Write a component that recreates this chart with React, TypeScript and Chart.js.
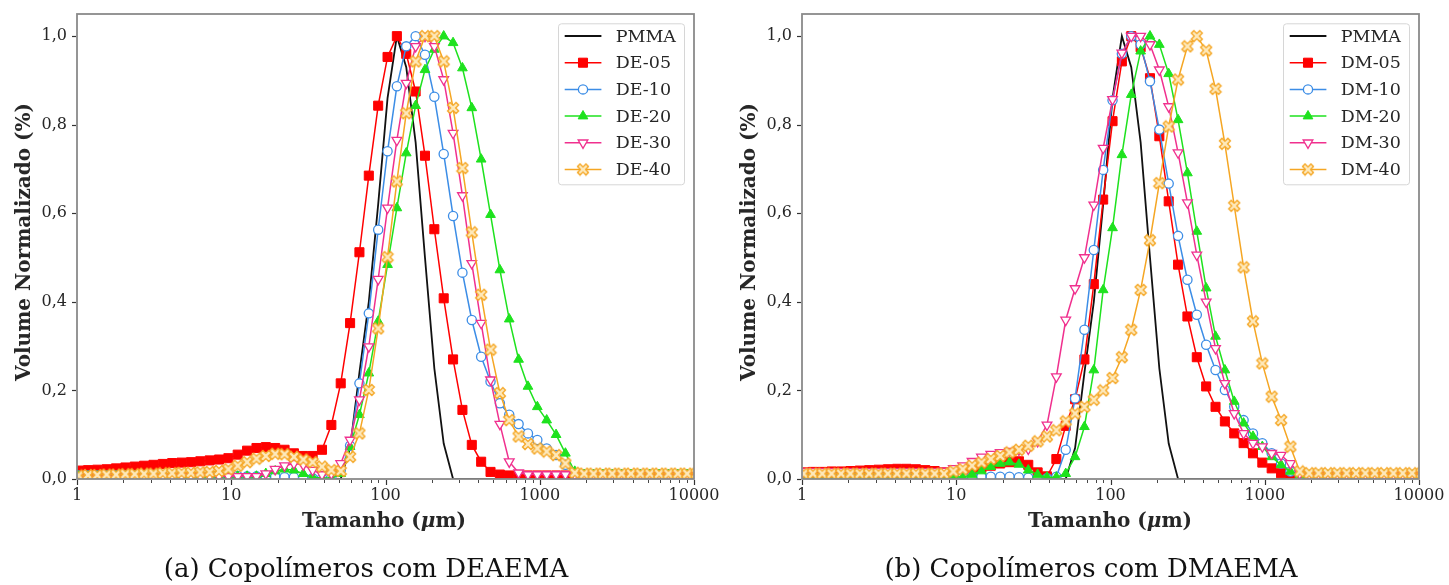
import React, { useEffect, useRef } from "react";
import { Chart, registerables } from "chart.js";
import { drawPoint } from "chart.js/helpers";

Chart.register(...registerables);

// Particle size grid (µm) shared by every curve
const SIZES = [
  0.890, 1.023, 1.177, 1.353, 1.556, 1.790, 2.058, 2.367, 2.722, 3.131, 3.600, 4.140, 4.762, 5.476, 6.298, 7.242, 8.328, 9.577,
  11.01, 12.67, 14.57, 16.75, 19.27, 22.16, 25.48, 29.30, 33.70, 38.75, 44.57, 51.25, 58.94, 67.76, 77.94, 89.64, 103.1,
  118.5, 136.3, 156.8, 180.3, 207.3, 238.4, 274.2, 315.3, 362.6, 417.0, 479.6, 551.5, 634.2, 729.4, 838.8, 964.5, 1109,
  1276, 1467, 1687, 1940, 2231, 2566, 2951, 3393, 3902, 4487, 5161, 5935, 6825, 7849, 9027, 10380,
];

const PMMA = [
  0, 0, 0, 0, 0, 0, 0, 0, 0, 0, 0, 0, 0, 0, 0, 0, 0, 0,
  0, 0, 0, 0, 0, 0, 0, 0, 0, 0, 0, 0, 0.07, 0.24, 0.40, 0.62, 0.86,
  1.0, 0.93, 0.76, 0.50, 0.25, 0.08, 0, 0, 0, 0, 0, 0, 0, 0, 0, 0, 0,
  0, 0, 0, 0, 0, 0, 0, 0, 0, 0, 0, 0, 0, 0, 0, 0,
];

const DE05 = [
  0.018, 0.019, 0.020, 0.021, 0.022, 0.024, 0.026, 0.028, 0.030, 0.032, 0.034, 0.036, 0.037, 0.038, 0.040, 0.042, 0.044, 0.047,
  0.055, 0.064, 0.070, 0.072, 0.070, 0.066, 0.058, 0.052, 0.052, 0.066, 0.122, 0.216, 0.352, 0.512, 0.685, 0.843, 0.953,
  1.0, 0.96, 0.875, 0.730, 0.564, 0.408, 0.270, 0.156, 0.077, 0.039, 0.016, 0.010, 0.008, 0.008, 0.008, 0.008, 0.008,
  0.008, 0.008, 0.008, 0.008, 0.008, 0.008, 0.008, 0.008, 0.008, 0.008, 0.008, 0.008, 0.008, 0.008, 0.008, 0.008,
];
const DE10 = [
  0.008, 0.008, 0.008, 0.008, 0.008, 0.008, 0.008, 0.008, 0.008, 0.008, 0.008, 0.008, 0.008, 0.008, 0.008, 0.008, 0.008, 0.008,
  0.007, 0.006, 0.006, 0.005, 0.005, 0.004, 0.004, 0.003, 0.002, 0.002, 0.003, 0.020, 0.075, 0.216, 0.374, 0.563, 0.740,
  0.887, 0.977, 1.0, 0.958, 0.863, 0.734, 0.594, 0.466, 0.359, 0.276, 0.220, 0.171, 0.145, 0.124, 0.103, 0.088, 0.069,
  0.054, 0.032, 0.013, 0.010, 0.010, 0.010, 0.010, 0.010, 0.010, 0.010, 0.010, 0.010, 0.010, 0.010, 0.010, 0.010,
];
const DE20 = [
  0.006, 0.006, 0.006, 0.006, 0.006, 0.006, 0.006, 0.006, 0.006, 0.006, 0.006, 0.006, 0.006, 0.006, 0.006, 0.006, 0.006, 0.006,
  0.006, 0.006, 0.006, 0.012, 0.018, 0.022, 0.020, 0.012, 0.004, 0.002, 0.002, 0.012, 0.073, 0.145, 0.239, 0.356, 0.484,
  0.612, 0.736, 0.843, 0.924, 0.970, 1.0, 0.985, 0.928, 0.838, 0.722, 0.597, 0.472, 0.361, 0.270, 0.209, 0.163, 0.133,
  0.100, 0.058, 0.017, 0.010, 0.010, 0.010, 0.010, 0.010, 0.010, 0.010, 0.010, 0.010, 0.010, 0.010, 0.010, 0.010,
];
const DE30 = [
  0.006, 0.006, 0.006, 0.006, 0.006, 0.006, 0.006, 0.006, 0.006, 0.006, 0.006, 0.006, 0.006, 0.006, 0.006, 0.006, 0.006, 0.006,
  0.006, 0.006, 0.006, 0.012, 0.022, 0.030, 0.035, 0.032, 0.020, 0.010, 0.012, 0.035, 0.088, 0.179, 0.299, 0.451, 0.612,
  0.765, 0.894, 0.977, 1.0, 0.977, 0.902, 0.781, 0.640, 0.487, 0.352, 0.224, 0.124, 0.039, 0.014, 0.010, 0.010, 0.010,
  0.010, 0.010, 0.010, 0.010, 0.010, 0.010, 0.010, 0.010, 0.010, 0.010, 0.010, 0.010, 0.010, 0.010, 0.010, 0.010,
];
const DE40 = [
  0.008, 0.008, 0.009, 0.009, 0.010, 0.010, 0.011, 0.011, 0.012, 0.012, 0.013, 0.013, 0.014, 0.014, 0.015, 0.016, 0.018, 0.022,
  0.030, 0.038, 0.046, 0.052, 0.057, 0.056, 0.050, 0.044, 0.038, 0.028, 0.020, 0.018, 0.050, 0.103, 0.201, 0.340, 0.501,
  0.672, 0.826, 0.943, 1.0, 1.0, 0.943, 0.838, 0.702, 0.557, 0.416, 0.292, 0.194, 0.133, 0.096, 0.079, 0.069, 0.062,
  0.054, 0.035, 0.014, 0.012, 0.012, 0.012, 0.012, 0.012, 0.012, 0.012, 0.012, 0.012, 0.012, 0.012, 0.012, 0.012,
];

const DM05 = [
  0.015, 0.015, 0.016, 0.016, 0.017, 0.017, 0.018, 0.019, 0.020, 0.021, 0.022, 0.023, 0.023, 0.022, 0.020, 0.018, 0.015, 0.014,
  0.016, 0.020, 0.025, 0.030, 0.035, 0.038, 0.040, 0.032, 0.015, 0.006, 0.045, 0.120, 0.180, 0.270, 0.440, 0.631, 0.808,
  0.943, 1.0, 0.975, 0.905, 0.774, 0.627, 0.484, 0.367, 0.275, 0.209, 0.163, 0.130, 0.103, 0.081, 0.058, 0.037, 0.024,
  0.013, 0.007, 0.007, 0.007, 0.007, 0.007, 0.007, 0.007, 0.007, 0.007, 0.007, 0.007, 0.007, 0.007, 0.007, 0.007,
];
const DM10 = [
  0.008, 0.008, 0.008, 0.008, 0.008, 0.008, 0.008, 0.008, 0.008, 0.008, 0.008, 0.008, 0.008, 0.008, 0.008, 0.008, 0.008, 0.008,
  0.006, 0.005, 0.005, 0.005, 0.005, 0.005, 0.004, 0.003, 0.002, 0.002, 0.005, 0.066, 0.182, 0.337, 0.517, 0.698, 0.855,
  0.960, 1.0, 0.981, 0.898, 0.789, 0.667, 0.549, 0.450, 0.371, 0.303, 0.246, 0.201, 0.163, 0.133, 0.103, 0.081, 0.058,
  0.035, 0.017, 0.008, 0.008, 0.008, 0.008, 0.008, 0.008, 0.008, 0.008, 0.008, 0.008, 0.008, 0.008, 0.008, 0.008,
];
const DM20 = [
  0.006, 0.006, 0.006, 0.006, 0.006, 0.006, 0.006, 0.006, 0.006, 0.006, 0.006, 0.006, 0.006, 0.006, 0.006, 0.006, 0.006, 0.006,
  0.004, 0.010, 0.018, 0.028, 0.035, 0.038, 0.033, 0.020, 0.010, 0.004, 0.004, 0.012, 0.050, 0.118, 0.246, 0.427, 0.567,
  0.732, 0.868, 0.966, 1.0, 0.981, 0.915, 0.811, 0.691, 0.559, 0.431, 0.322, 0.246, 0.175, 0.126, 0.096, 0.073, 0.050,
  0.032, 0.017, 0.008, 0.008, 0.008, 0.008, 0.008, 0.008, 0.008, 0.008, 0.008, 0.008, 0.008, 0.008, 0.008, 0.008,
];
const DM30 = [
  0.017, 0.017, 0.017, 0.017, 0.017, 0.017, 0.017, 0.017, 0.017, 0.017, 0.017, 0.017, 0.017, 0.017, 0.017, 0.017, 0.018, 0.024,
  0.030, 0.040, 0.050, 0.056, 0.060, 0.063, 0.066, 0.068, 0.085, 0.122, 0.231, 0.359, 0.430, 0.500, 0.619, 0.747, 0.857,
  0.962, 1.0, 1.0, 0.981, 0.924, 0.841, 0.737, 0.624, 0.506, 0.400, 0.295, 0.216, 0.148, 0.103, 0.081, 0.073, 0.058,
  0.054, 0.035, 0.012, 0.010, 0.010, 0.010, 0.010, 0.010, 0.010, 0.010, 0.010, 0.010, 0.010, 0.010, 0.010, 0.010,
];
const DM40 = [
  0.012, 0.012, 0.012, 0.012, 0.012, 0.012, 0.012, 0.012, 0.012, 0.012, 0.012, 0.012, 0.012, 0.012, 0.012, 0.012, 0.012, 0.017,
  0.022, 0.030, 0.037, 0.045, 0.052, 0.060, 0.066, 0.075, 0.085, 0.096, 0.110, 0.130, 0.148, 0.163, 0.179, 0.200, 0.228,
  0.275, 0.337, 0.427, 0.539, 0.668, 0.796, 0.902, 0.977, 1.0, 0.968, 0.881, 0.757, 0.617, 0.478, 0.356, 0.261, 0.186,
  0.133, 0.073, 0.017, 0.013, 0.013, 0.013, 0.013, 0.013, 0.013, 0.013, 0.013, 0.013, 0.013, 0.013, 0.013, 0.013,
];

const LABELS_A = ["PMMA", "DE-05", "DE-10", "DE-20", "DE-30", "DE-40"];
const LABELS_B = ["PMMA", "DM-05", "DM-10", "DM-20", "DM-30", "DM-40"];
const Y_TICKS = [0, 0.2, 0.4, 0.6, 0.8, 1.0];
const X_TICK_LABELS = [1, 10, 100, 1000, 10000];
const X_MINOR_MULT = [2, 3, 4, 5, 6, 7, 8, 9];

const FONT = "'DejaVu Serif', serif";
const TEXT = "#262626";

type Style = {
  color: string;
  fill: string;
  marker: string;
  radius: number;
  rotation: number;
  lineWidth: number;
  pbw: number;
};

const STYLES: Style[] = [
  { color: "#111111", fill: "#111111", marker: "circle", radius: 0, rotation: 0, lineWidth: 1.8, pbw: 0 },
  { color: "#ff0000", fill: "#ff0000", marker: "rect", radius: 6.4, rotation: 0, lineWidth: 1.5, pbw: 1 },
  { color: "#3c8de6", fill: "#ffffff", marker: "circle", radius: 4.6, rotation: 0, lineWidth: 1.5, pbw: 1.3 },
  { color: "#1ee21e", fill: "#1ee21e", marker: "triangle", radius: 5.6, rotation: 0, lineWidth: 1.5, pbw: 1 },
  { color: "#f0308e", fill: "#ffffff", marker: "triangle", radius: 5.6, rotation: 180, lineWidth: 1.5, pbw: 1.3 },
  { color: "#f5a623", fill: "#fde9bb", marker: "x", radius: 5, rotation: 0, lineWidth: 1.5, pbw: 1.2 },
];

function makeXMarker(stroke: string, fill: string): HTMLCanvasElement {
  const c = document.createElement("canvas");
  c.width = 14;
  c.height = 14;
  const g = c.getContext("2d")!;
  const s = 6.0;
  const t = 1.8;
  const pts = [
    [-t, -s], [t, -s], [t, -t], [s, -t], [s, t], [t, t],
    [t, s], [-t, s], [-t, t], [-s, t], [-s, -t], [-t, -t],
  ];
  g.translate(7, 7);
  g.rotate(Math.PI / 4);
  g.beginPath();
  pts.forEach(([px, py], i) => (i === 0 ? g.moveTo(px, py) : g.lineTo(px, py)));
  g.closePath();
  g.fillStyle = fill;
  g.fill();
  g.strokeStyle = stroke;
  g.lineWidth = 1.3;
  g.stroke();
  return c;
}

const decorPlugin = {
  id: "decor",
  afterDatasetsDraw(chart: any, _args: any, opts: any) {
    const { ctx, chartArea: a, scales } = chart;
    ctx.save();
    // frame
    ctx.strokeStyle = "#8a8a8a";
    ctx.lineWidth = 1.8;
    ctx.strokeRect(a.left, a.top, a.right - a.left, a.bottom - a.top);
    // y ticks
    ctx.strokeStyle = "#333333";
    ctx.lineWidth = 1.2;
    for (const v of Y_TICKS) {
      const y = Math.round(scales.y.getPixelForValue(v)) + 0.5;
      ctx.beginPath();
      ctx.moveTo(a.left - 5, y);
      ctx.lineTo(a.left - 1, y);
      ctx.stroke();
    }
    // x ticks
    for (const v of X_TICK_LABELS) {
      const x = Math.round(scales.x.getPixelForValue(v)) + 0.5;
      ctx.beginPath();
      ctx.moveTo(x, a.bottom + 1);
      ctx.lineTo(x, a.bottom + 6);
      ctx.stroke();
      if (v < 10000) {
        for (const m of X_MINOR_MULT) {
          const xm = Math.round(scales.x.getPixelForValue(v * m)) + 0.5;
          ctx.lineWidth = 0.9;
          ctx.beginPath();
          ctx.moveTo(xm, a.bottom + 1);
          ctx.lineTo(xm, a.bottom + 4);
          ctx.stroke();
          ctx.lineWidth = 1.2;
        }
      }
    }
    // legend
    const items = opts.items as { label: string; style: Style; point: any }[];
    const bw = 126;
    const bh = 161;
    const bx = a.right - 10 - bw;
    const by = a.top + 9.3;
    ctx.beginPath();
    ctx.roundRect(bx + 0.5, by + 0.5, bw, bh, 3);
    ctx.fillStyle = "rgba(255,255,255,0.85)";
    ctx.fill();
    ctx.strokeStyle = "#d6d6d6";
    ctx.lineWidth = 1;
    ctx.stroke();
    items.forEach((it, r) => {
      const cy = a.top + 22 + r * 26.7;
      const st = it.style;
      ctx.strokeStyle = st.color;
      ctx.lineWidth = st.lineWidth;
      ctx.beginPath();
      ctx.moveTo(bx + 6.7, cy);
      ctx.lineTo(bx + 43.4, cy);
      ctx.stroke();
      if (st.radius > 0) {
        ctx.fillStyle = st.fill;
        ctx.strokeStyle = st.color;
        ctx.lineWidth = st.pbw;
        drawPoint(ctx, { pointStyle: it.point, rotation: st.rotation, radius: st.radius, borderWidth: st.pbw }, bx + 25, cy);
      }
      ctx.fillStyle = TEXT;
      ctx.font = `17.5px ${FONT}`;
      ctx.textAlign = "left";
      ctx.textBaseline = "middle";
      ctx.fillText(it.label, bx + 57.7, cy + 1);
    });
    ctx.restore();
  },
};

function createPanel(canvas: HTMLCanvasElement, labels: string[], values: number[][], areaLeft: number, areaRight: number) {
  const W = canvas.width;
  const H = canvas.height;
  const points = STYLES.map((st) => (st.marker === "x" ? makeXMarker(st.color, st.fill) : st.marker));
  const datasets = labels.map((label, idx) => {
    const st = STYLES[idx];
    return {
      label,
      data: SIZES.map((x, k) => ({ x, y: values[idx][k] })),
      borderColor: st.color,
      backgroundColor: st.fill,
      borderWidth: st.lineWidth,
      pointStyle: points[idx],
      pointRadius: st.radius,
      pointHoverRadius: st.radius,
      pointRotation: st.rotation,
      pointBackgroundColor: st.fill,
      pointBorderColor: st.color,
      pointBorderWidth: st.pbw,
      tension: 0,
      fill: false,
      order: labels.length - idx,
    };
  });
  return new Chart(canvas, {
    type: "line",
    data: { datasets },
    plugins: [decorPlugin],
    options: {
      animation: false,
      responsive: false,
      maintainAspectRatio: false,
      devicePixelRatio: 1,
      events: [],
      layout: { padding: { top: 14, right: W - areaRight, left: 0, bottom: 0 } },
      plugins: {
        legend: { display: false },
        tooltip: { enabled: false },
        decor: { items: labels.map((label, idx) => ({ label, style: STYLES[idx], point: points[idx] })) },
      } as any,
      scales: {
        x: {
          type: "logarithmic",
          min: 1,
          max: 10000,
          grid: { display: false, drawTicks: false },
          border: { display: false },
          ticks: {
            autoSkip: false,
            maxRotation: 0,
            padding: 7,
            color: TEXT,
            font: { family: FONT, size: 16 },
            callback: (v: any) => (X_TICK_LABELS.includes(Number(v)) ? String(v) : ""),
          },
          afterFit: (s: any) => {
            s.height = H - 479;
            s.paddingLeft = 0;
            s.paddingRight = 0;
          },
        },
        y: {
          type: "linear",
          min: 0,
          max: 1.05,
          grid: { display: false, drawTicks: false },
          border: { display: false },
          ticks: {
            stepSize: 0.2,
            includeBounds: false,
            padding: 10,
            color: TEXT,
            font: { family: FONT, size: 16 },
            callback: (v: any) => Number(v).toFixed(1).replace(".", ","),
          },
          afterFit: (s: any) => {
            s.width = areaLeft;
            s.paddingTop = 0;
            s.paddingBottom = 0;
          },
        },
      } as any,
    },
  });
}

const abs = (extra: React.CSSProperties): React.CSSProperties => ({
  position: "absolute",
  whiteSpace: "nowrap",
  color: TEXT,
  fontFamily: FONT,
  lineHeight: 1,
  ...extra,
});

export default function App() {
  const refA = useRef<HTMLCanvasElement>(null);
  const refB = useRef<HTMLCanvasElement>(null);

  useEffect(() => {
    const a = createPanel(refA.current!, LABELS_A, [PMMA, DE05, DE10, DE20, DE30, DE40], 77, 694);
    const b = createPanel(refB.current!, LABELS_B, [PMMA, DM05, DM10, DM20, DM30, DM40], 82, 699);
    return () => {
      a.destroy();
      b.destroy();
    };
  }, []);

  const yTitle = (cx: number): React.CSSProperties =>
    abs({ left: cx, top: 242, transform: "translate(-50%, -50%) rotate(-90deg)", fontWeight: "bold", fontSize: 20 });
  const xTitle = (cx: number): React.CSSProperties =>
    abs({ left: cx, top: 520, transform: "translate(-50%, -50%)", fontWeight: "bold", fontSize: 20 });
  const caption = (cx: number): React.CSSProperties =>
    abs({ left: cx, top: 568, transform: "translate(-50%, -50%)", fontSize: 26, color: "#111" });

  return (
    <div style={{ position: "absolute", left: 0, top: 0, width: 1449, height: 585, background: "#fff", overflow: "hidden" }}>
      <canvas ref={refA} width={720} height={585} style={{ position: "absolute", left: 0, top: 0 }} />
      <canvas ref={refB} width={729} height={585} style={{ position: "absolute", left: 720, top: 0 }} />
      <div style={yTitle(23)}>Volume Normalizado (%)</div>
      <div style={yTitle(748)}>Volume Normalizado (%)</div>
      <div style={xTitle(384)}>
        Tamanho (<i>μ</i>m)
      </div>
      <div style={xTitle(1110)}>
        Tamanho (<i>μ</i>m)
      </div>
      <div style={caption(366)}>(a) Copolímeros com DEAEMA</div>
      <div style={caption(1091)}>(b) Copolímeros com DMAEMA</div>
    </div>
  );
}
